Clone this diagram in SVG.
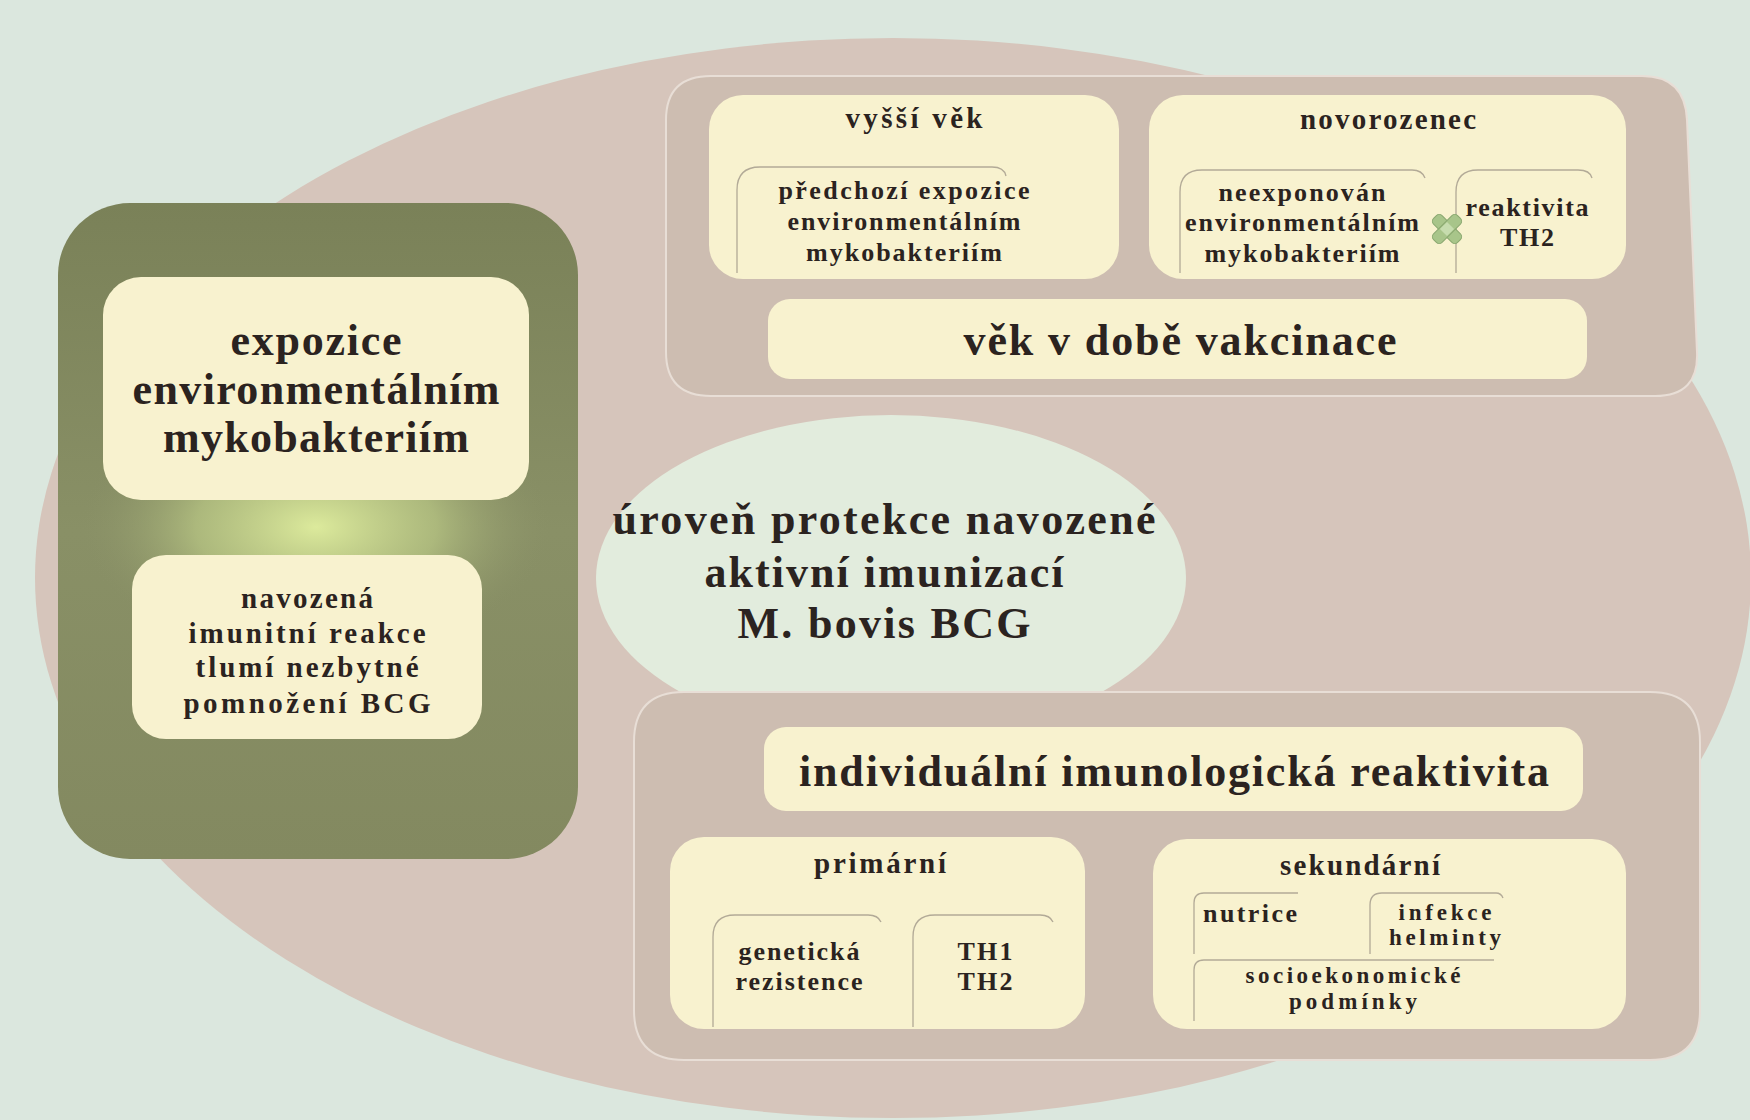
<svg xmlns="http://www.w3.org/2000/svg" width="1750" height="1120" viewBox="0 0 1750 1120">
<defs>
<radialGradient id="glow" gradientUnits="userSpaceOnUse" cx="316" cy="527" r="240" gradientTransform="translate(316 527) scale(1 0.55) translate(-316 -527)">
<stop offset="0" stop-color="#dcea9c" stop-opacity="1"/>
<stop offset="0.5" stop-color="#b8c684" stop-opacity="0.75"/>
<stop offset="1" stop-color="#878d66" stop-opacity="0"/>
</radialGradient>
<linearGradient id="olive" x1="0" y1="0" x2="0" y2="1">
<stop offset="0" stop-color="#7a8158"/>
<stop offset="0.5" stop-color="#899066"/>
<stop offset="1" stop-color="#838960"/>
</linearGradient>
<g id="xmark">
<rect x="-17" y="-6" width="34" height="12" rx="4" fill="#a8c58a" stroke="#8aa870" stroke-width="1"/>
<rect x="-6" y="-17" width="12" height="34" rx="4" fill="#a8c58a" stroke="#8aa870" stroke-width="1"/>
<rect x="-5" y="-5" width="10" height="10" fill="#c6dcae"/>
</g>
</defs>
<style>
.t{font-family:"Liberation Serif","Times New Roman",serif;font-weight:bold;fill:#2b2320;text-anchor:middle}
.big{font-size:44px}
.mid{font-size:29px}
.sm{font-size:26px}
.xs{font-size:23px}
.box{fill:#f8f2cf}
.panel{fill:#cdbdb1;stroke:#e8ded6;stroke-width:2}
.sub{fill:none;stroke:#9b9284;stroke-width:1.3;stroke-opacity:0.75}
</style>
<rect x="0" y="0" width="1750" height="1120" fill="#dbe7de"/>
<g id="background-ellipse">
<ellipse cx="893" cy="578" rx="858" ry="540" fill="#d6c5bb"/>
</g>
<g id="connectors"></g>

<g id="left-panel">
<rect x="58" y="203" width="520" height="656" rx="72" fill="url(#olive)"/>
<ellipse cx="316" cy="527" rx="255" ry="140" fill="url(#glow)"/>
<g id="node-expozice">
<rect class="box" x="103" y="277" width="426" height="223" rx="38"/>
<text class="t big" x="316" y="355" textLength="171" lengthAdjust="spacing">expozice</text>
<text class="t big" x="316" y="404" textLength="367" lengthAdjust="spacing">environmentálním</text>
<text class="t big" x="316" y="452" textLength="306" lengthAdjust="spacing">mykobakteriím</text>
</g>
<g id="node-navozena">
<rect class="box" x="132" y="555" width="350" height="184" rx="34"/>
<text class="t mid" x="307" y="608" textLength="132" lengthAdjust="spacing">navozená</text>
<text class="t mid" x="307" y="643" textLength="237" lengthAdjust="spacing">imunitní  reakce</text>
<text class="t mid" x="307" y="677" textLength="223" lengthAdjust="spacing">tlumí  nezbytné</text>
<text class="t mid" x="307" y="713" textLength="247" lengthAdjust="spacing">pomnožení  BCG</text>
</g>
</g>

<g id="node-center">
<ellipse cx="891" cy="578" rx="295" ry="163" fill="#e2ecdd"/>
<text class="t big" x="884" y="534" textLength="543" lengthAdjust="spacing">úroveň  protekce  navozené</text>
<text class="t big" x="884" y="587" textLength="359" lengthAdjust="spacing">aktivní  imunizací</text>
<text class="t big" x="884" y="638" textLength="293" lengthAdjust="spacing">M. bovis  BCG</text>
</g>

<g id="top-panel">
<path class="panel" d="M711,76 L1642,76 Q1685,76 1687,120 L1697,352 Q1699,396 1655,396 L711,396 Q666,396 666,352 L666,120 Q666,76 711,76 Z"/>
<g id="node-vyssi-vek">
<rect class="box" x="709" y="95" width="410" height="184" rx="34"/>
<text class="t mid" x="914" y="128" textLength="137" lengthAdjust="spacing">vyšší  věk</text>
<path class="sub" d="M737,273 L737,190 Q737,167 760,167 L992,167 Q1004,167 1006,176"/>
<text class="t sm" x="904" y="199" textLength="251" lengthAdjust="spacing">předchozí  expozice</text>
<text class="t sm" x="904" y="230" textLength="233" lengthAdjust="spacing">environmentálním</text>
<text class="t sm" x="904" y="261" textLength="196" lengthAdjust="spacing">mykobakteriím</text>
</g>
<g id="node-novorozenec">
<rect class="box" x="1149" y="95" width="477" height="184" rx="34"/>
<text class="t mid" x="1388" y="129" textLength="176" lengthAdjust="spacing">novorozenec</text>
<path class="sub" d="M1180,273 L1180,192 Q1180,170 1202,170 L1412,170 Q1422,170 1425,178"/>
<text class="t sm" x="1302" y="201" textLength="167" lengthAdjust="spacing">neexponován</text>
<text class="t sm" x="1302" y="231" textLength="234" lengthAdjust="spacing">environmentálním</text>
<text class="t sm" x="1302" y="262" textLength="195" lengthAdjust="spacing">mykobakteriím</text>
<path class="sub" d="M1456,273 L1456,192 Q1456,170 1478,170 L1578,170 Q1590,170 1592,178"/>
<text class="t sm" x="1527" y="216" textLength="123" lengthAdjust="spacing">reaktivita</text>
<text class="t sm" x="1527" y="246" textLength="54" lengthAdjust="spacing">TH2</text>
<use href="#xmark" transform="translate(1447 229) rotate(45)"/>
</g>
<g id="node-vek-vakcinace">
<rect class="box" x="768" y="299" width="819" height="80" rx="22"/>
<text class="t big" x="1180" y="355" textLength="433" lengthAdjust="spacing">věk v době  vakcinace</text>
</g>
</g>

<g id="bottom-panel">
<path class="panel" d="M684,692 L1650,692 Q1700,692 1700,742 L1700,1010 Q1700,1060 1650,1060 L684,1060 Q634,1060 634,1010 L634,742 Q634,692 684,692 Z"/>
<g id="node-individualni">
<rect class="box" x="764" y="727" width="819" height="84" rx="22"/>
<text class="t big" x="1174" y="786" textLength="750" lengthAdjust="spacing">individuální  imunologická  reaktivita</text>
</g>
<g id="node-primarni">
<rect class="box" x="670" y="837" width="415" height="192" rx="34"/>
<text class="t mid" x="880" y="873" textLength="132" lengthAdjust="spacing">primární</text>
<path class="sub" d="M713,1027 L713,937 Q713,915 735,915 L868,915 Q878,915 881,922"/>
<text class="t sm" x="799" y="960" textLength="121" lengthAdjust="spacing">genetická</text>
<text class="t sm" x="799" y="990" textLength="127" lengthAdjust="spacing">rezistence</text>
<path class="sub" d="M913,1027 L913,937 Q913,915 935,915 L1040,915 Q1050,915 1053,922"/>
<text class="t sm" x="985" y="960" textLength="55" lengthAdjust="spacing">TH1</text>
<text class="t sm" x="985" y="990" textLength="55" lengthAdjust="spacing">TH2</text>
</g>
<g id="node-sekundarni">
<rect class="box" x="1153" y="839" width="473" height="190" rx="34"/>
<text class="t mid" x="1360" y="875" textLength="160" lengthAdjust="spacing">sekundární</text>
<path class="sub" d="M1194,954 L1194,903 Q1194,893 1204,893 L1298,893"/>
<text class="t sm" x="1250" y="922" textLength="94" lengthAdjust="spacing">nutrice</text>
<path class="sub" d="M1370,954 L1370,905 Q1370,893 1382,893 L1496,893 Q1501,893 1503,898"/>
<text class="t xs" x="1445" y="920" textLength="93" lengthAdjust="spacing">infekce</text>
<text class="t xs" x="1445" y="945" textLength="112" lengthAdjust="spacing">helminty</text>
<path class="sub" d="M1194,1021 L1194,970 Q1194,960 1204,960 L1494,960"/>
<text class="t xs" x="1353" y="983" textLength="215" lengthAdjust="spacing">socioekonomické</text>
<text class="t xs" x="1353" y="1009" textLength="128" lengthAdjust="spacing">podmínky</text>
</g>
</g>
</svg>
